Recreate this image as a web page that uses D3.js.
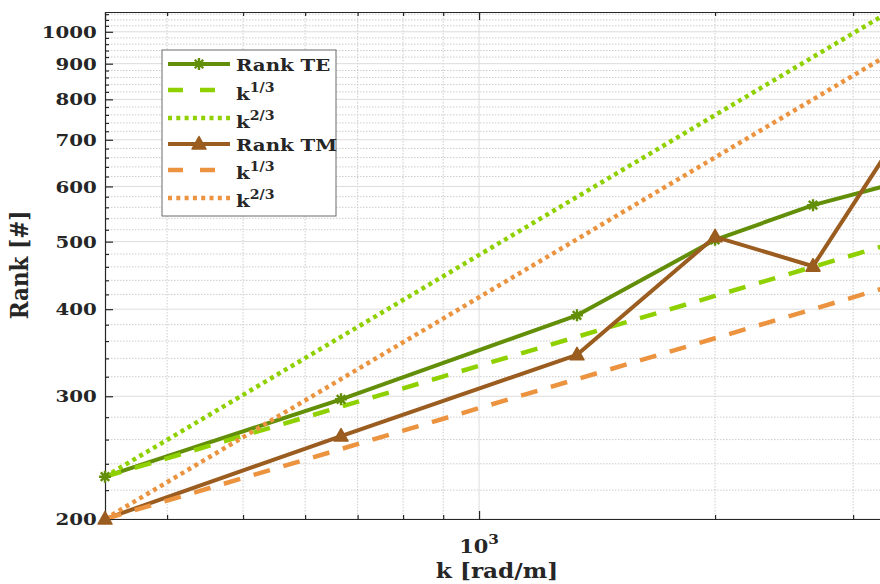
<!DOCTYPE html>
<html>
<head>
<meta charset="utf-8">
<script src="https://cdn.jsdelivr.net/npm/d3@7"></script>
<style>
  body { margin: 0; background: #fff; }
  svg text { font-family: "DejaVu Serif", serif; font-weight: bold; fill: #262626; }
</style>
</head>
<body>
<div id="chart"></div>
<script>
// Wavenumber samples [rad/m]
const kValues = [333.33, 666.67, 1333.33, 2000, 2666.67, 3333.33];
// Measured ranks
const rankTE = [230, 297, 392, 503, 564, 603];
const rankTM = [200, 263, 344, 508, 461, 678];
// Power-law reference lines anchored at the first sample
const guideTE13 = [230, 289.8, 365.1, 417.9, 460.0, 495.5];
const guideTE23 = [230, 365.1, 579.6, 759.4, 920.0, 1067.6];
const guideTM13 = [200, 252.0, 317.5, 363.4, 400.0, 430.9];
const guideTM23 = [200, 317.5, 504.0, 660.4, 800.0, 928.3];
// Axis ticks
const yTickValues = [200, 300, 400, 500, 600, 700, 800, 900, 1000];
const yMinorValues = d3.range(220, 1061, 20).filter(v => v % 100 !== 0);
const xMajorValues = [1000];
const xMinorValues = [400, 500, 600, 700, 800, 900, 2000, 3000];

const W = 880, H = 584;
const M = { left: 105, right: 889, top: 12, bottom: 519 };
const SX = 1.13; // horizontal glyph stretch of the figure text

const svg = d3.select("#chart").append("svg")
  .attr("width", W).attr("height", H);

const x = d3.scaleLog().domain([kValues[0], kValues[kValues.length - 1]]).range([M.left, M.right]);
const y = d3.scaleLog().domain([200, 1067.6]).range([M.bottom, M.top]);

svg.append("defs").append("clipPath").attr("id", "plotClip")
  .append("rect").attr("x", M.left).attr("y", M.top)
  .attr("width", M.right - M.left).attr("height", M.bottom - M.top);

// Grid
const grid = svg.append("g");
grid.selectAll(".ymin").data(yMinorValues).join("line")
  .attr("x1", M.left).attr("x2", M.right)
  .attr("y1", d => y(d)).attr("y2", d => y(d))
  .attr("stroke", "#cccccc").attr("stroke-width", 1).attr("stroke-dasharray", "1.5,1.5");
grid.selectAll(".xmin").data(xMinorValues).join("line")
  .attr("y1", M.top).attr("y2", M.bottom)
  .attr("x1", d => x(d)).attr("x2", d => x(d))
  .attr("stroke", "#cccccc").attr("stroke-width", 1).attr("stroke-dasharray", "1.5,1.5");
grid.selectAll(".ymaj").data(yTickValues).join("line")
  .attr("x1", M.left).attr("x2", M.right)
  .attr("y1", d => y(d)).attr("y2", d => y(d))
  .attr("stroke", "#dcdcdc").attr("stroke-width", 1);
grid.selectAll(".xmaj").data(xMajorValues).join("line")
  .attr("y1", M.top).attr("y2", M.bottom)
  .attr("x1", d => x(d)).attr("x2", d => x(d))
  .attr("stroke", "#dcdcdc").attr("stroke-width", 1);

// Axes (ticks pointing inward)
const axisColor = "#262626";
const yAxis = svg.append("g").attr("transform", `translate(${M.left},0)`)
  .call(d3.axisLeft(y).tickValues(yTickValues).tickFormat(d3.format("d"))
    .tickSize(-8).tickPadding(7.3));
yAxis.selectAll("text")
  .attr("transform", `scale(${SX},1)`)
  .style("font-size", "17.5px");
svg.append("g").attr("transform", `translate(${M.left},0)`)
  .call(d3.axisLeft(y).tickValues(yMinorValues).tickFormat("").tickSize(-4))
  .call(g => g.select(".domain").remove());

svg.append("g").attr("transform", `translate(0,${M.bottom})`)
  .call(d3.axisBottom(x).tickValues(xMajorValues).tickFormat("").tickSize(-8));
svg.append("g").attr("transform", `translate(0,${M.bottom})`)
  .call(d3.axisBottom(x).tickValues(xMinorValues).tickFormat("").tickSize(-4))
  .call(g => g.select(".domain").remove());
svg.append("g").attr("transform", `translate(0,${M.top})`)
  .call(d3.axisTop(x).tickValues(xMajorValues).tickFormat("").tickSize(-8));
svg.append("g").attr("transform", `translate(0,${M.top})`)
  .call(d3.axisTop(x).tickValues(xMinorValues).tickFormat("").tickSize(-4))
  .call(g => g.select(".domain").remove());
svg.selectAll(".domain, .tick line").attr("stroke", axisColor).attr("stroke-width", 1.2);

// Decade label 10^3
const dec = svg.append("text")
  .attr("transform", `translate(${x(1000)},553) scale(${SX},1)`)
  .attr("text-anchor", "middle").style("font-size", "18.5px");
dec.append("tspan").text("10");
dec.append("tspan").attr("dy", -9).style("font-size", "13.5px").text("3");

// Axis titles
svg.append("text")
  .attr("transform", `translate(497,578) scale(${SX},1)`)
  .attr("text-anchor", "middle").style("font-size", "20.5px").text("k [rad/m]");
svg.append("text")
  .attr("transform", `translate(28,265) rotate(-90) scale(1,${SX})`)
  .attr("text-anchor", "middle").style("font-size", "21.5px").text("Rank [#]");

// Series
const cTE = "#628e08", cTEg = "#8fd100", cTM = "#9a5c1f", cTMg = "#ec9340";
const series = [
  { name: "Rank TE", values: rankTE, color: cTE, width: 4, dash: null, marker: "star" },
  { name: "k", sup: "1/3", values: guideTE13, color: cTEg, width: 4.5, dash: "17,14" },
  { name: "k", sup: "2/3", values: guideTE23, color: cTEg, width: 4.5, dash: "4,4" },
  { name: "Rank TM", values: rankTM, color: cTM, width: 4, dash: null, marker: "tri" },
  { name: "k", sup: "1/3", values: guideTM13, color: cTMg, width: 4.5, dash: "17,14" },
  { name: "k", sup: "2/3", values: guideTM23, color: cTMg, width: 4.5, dash: "4,4" }
];

const line = d3.line().x((d, i) => x(kValues[i])).y(d => y(d));
const plot = svg.append("g").attr("clip-path", "url(#plotClip)");

function drawMarker(g, type, cx, cy, color) {
  if (type === "star") {
    const r = 6;
    const p = [];
    for (let a = 0; a < 180; a += 45) {
      const t = a * Math.PI / 180;
      p.push(`M${cx - r * Math.cos(t)},${cy - r * Math.sin(t)}L${cx + r * Math.cos(t)},${cy + r * Math.sin(t)}`);
    }
    g.append("path").attr("d", p.join("")).attr("stroke", color).attr("stroke-width", 2.4).attr("fill", "none");
  } else if (type === "tri") {
    g.append("path")
      .attr("d", `M${cx},${cy - 7.5}L${cx + 7},${cy + 5}L${cx - 7},${cy + 5}Z`)
      .attr("fill", color).attr("stroke", color).attr("stroke-width", 1.5).attr("stroke-linejoin", "round");
  }
}

const markers = svg.append("g");
series.forEach(s => {
  plot.append("path").datum(s.values)
    .attr("d", line)
    .attr("fill", "none")
    .attr("stroke", s.color)
    .attr("stroke-width", s.width)
    .attr("stroke-dasharray", s.dash)
    .attr("stroke-linejoin", "round");
  if (s.marker) {
    s.values.forEach((v, i) => {
      const px = x(kValues[i]);
      if (px <= W) drawMarker(markers, s.marker, px, y(v), s.color);
    });
  }
});

// Legend
const lg = svg.append("g");
lg.append("rect").attr("x", 162).attr("y", 50).attr("width", 174).attr("height", 166)
  .attr("fill", "#fff").attr("stroke", "#6b6b6b").attr("stroke-width", 1);
const lineY = [64, 90, 118, 144, 170, 198];
const textY = [71, 100, 128, 151, 179, 207];
series.forEach((s, i) => {
  lg.append("line").attr("x1", 168).attr("x2", 230).attr("y1", lineY[i]).attr("y2", lineY[i])
    .attr("stroke", s.color).attr("stroke-width", s.width)
    .attr("stroke-dasharray", s.dash ? (s.dash === "4,4" ? "4,4.3" : "15,17") : null);
  if (s.marker) drawMarker(lg, s.marker, 199, lineY[i], s.color);
  const t = lg.append("text")
    .attr("transform", `translate(236,${textY[i]}) scale(${SX},1)`)
    .style("font-size", "17.5px");
  t.append("tspan").text(s.name);
  if (s.sup) t.append("tspan").attr("dy", -8).style("font-size", "12.5px").text(s.sup);
});
</script>
</body>
</html>
